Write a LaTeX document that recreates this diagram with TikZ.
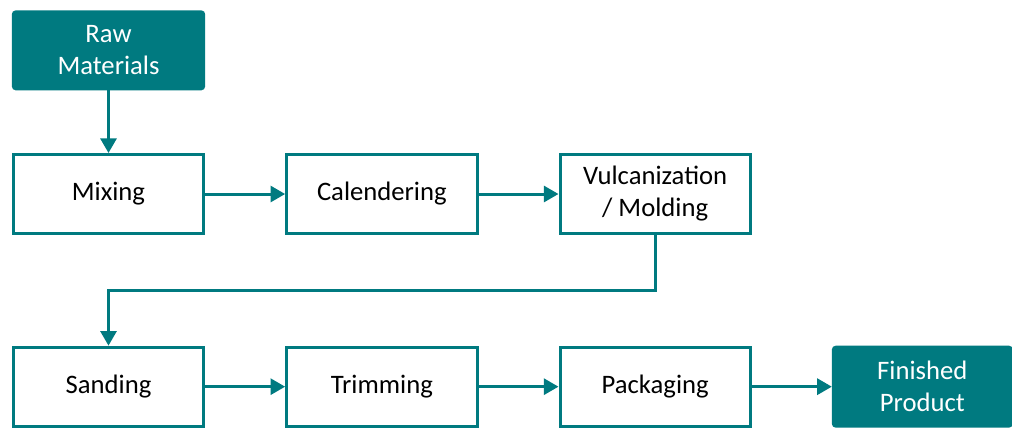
\documentclass[tikz,border=0pt]{standalone}
\usepackage{fontspec}
\setmainfont{Carlito}
\usetikzlibrary{positioning,arrows.meta}
\definecolor{procteal}{RGB}{0,122,128}

\begin{document}
\begin{tikzpicture}[x=0.75pt,y=-0.75pt,>={Triangle[length=11pt,width=12pt]},
                    line width=2.25pt,node distance=47pt and 60pt,
                    stage box/.style={rectangle,draw=procteal,fill=white,inner sep=0pt,
                      minimum width=142.75pt,minimum height=59.25pt,align=center,
                      font=\fontsize{20}{24}\selectfont,text=black},
                    end box/.style={stage box,fill=procteal,text=white,rounded corners=2pt}]
  \useasboundingbox (0,0) rectangle (1012,430);
  \node[stage box] (mix) at (108.5,194) {Mixing};
  \node[end box,minimum height=57.75pt] (raw) [above=of mix] {Raw\\Materials};
  \node[stage box] (cal) [right=of mix] {Calendering};
  \node[stage box] (vulc) [right=of cal] {Vulcanization\\/ Molding};
  \node[stage box] (sand) [below=83pt of mix] {Sanding};
  \node[stage box] (trim) [right=of sand] {Trimming};
  \node[stage box] (pack) [right=of trim] {Packaging};
  \node[end box,minimum width=133.5pt] (fin) [right=of pack] {Finished\\Product};
  \path[color=procteal,->]
    (raw) edge (mix)
    (mix) edge (cal)
    (cal) edge (vulc)
    (sand) edge (trim)
    (trim) edge (pack)
    (pack) edge (fin);
  \draw[color=procteal,->] (vulc.south) -- ++(0,55.5) -| (sand.north);
\end{tikzpicture}
\end{document}
